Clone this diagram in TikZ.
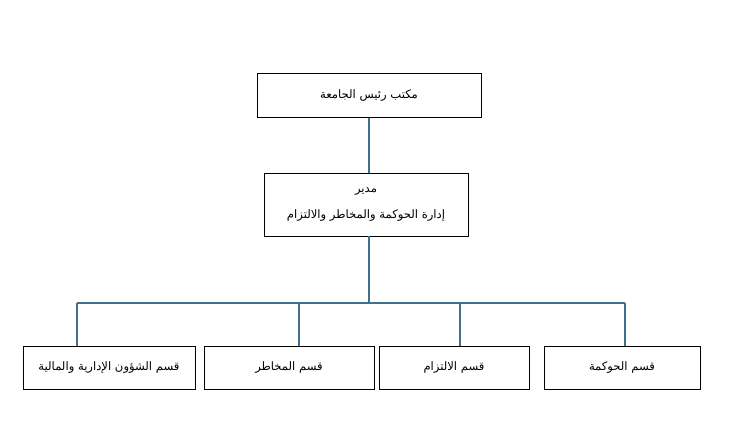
\documentclass[tikz,border=0pt]{standalone}
\usepackage{fontspec}
\newfontfamily\arabicfont[Script=Arabic]{DejaVu Sans}
\TeXXeTstate=1
\definecolor{linkc}{RGB}{64,112,140}
\tikzset{
  box/.style={draw=black, line width=0.75pt, fill=white, inner sep=0pt, font=\arabicfont\fontsize{8.7}{10}\selectfont, align=center},
  link/.style={draw=linkc, line width=0.9pt}
}
\begin{document}
\begin{tikzpicture}[x=0.75pt,y=-0.75pt]
\useasboundingbox (0,0) rectangle (745,442);
\node[box, minimum width=168pt, minimum height=33pt] (top) at (369,96) {\beginR مكتب رئيس الجامعة\endR};
\node[box, minimum width=153pt, minimum height=47.25pt] (mid) at (366,204.5) {\beginR مدير\endR\\[10pt]\beginR إدارة الحوكمة والمخاطر والالتزام\endR};
\node[box, minimum width=129pt, minimum height=32.25pt] (b1) at (109,367.5) {\beginR قسم الشؤون الإدارية والمالية\endR};
\node[box, minimum width=127.5pt, minimum height=32.25pt] (b2) at (289,367.5) {\beginR قسم المخاطر\endR};
\node[box, minimum width=112.5pt, minimum height=32.25pt] (b3) at (454,367.5) {\beginR قسم الالتزام\endR};
\node[box, minimum width=117pt, minimum height=32.25pt] (b4) at (622,367.5) {\beginR قسم الحوكمة\endR};
\coordinate (t1) at (369,118);
\coordinate (m1) at (369,173);
\coordinate (m2) at (369,236);
\coordinate (bus) at (369,303);
\coordinate (d1) at (77,346);
\coordinate (d2) at (299,346);
\coordinate (d3) at (460,346);
\coordinate (d4) at (625,346);
\draw[link] (t1) -- (m1);
\draw[link] (m2) -- (bus);
\draw[link] (d1 |- bus) -- (d4 |- bus);
\draw[link] (d1) -- (d1 |- bus);
\draw[link] (d2) -- (d2 |- bus);
\draw[link] (d3) -- (d3 |- bus);
\draw[link] (d4) -- (d4 |- bus);
\end{tikzpicture}
\end{document}
